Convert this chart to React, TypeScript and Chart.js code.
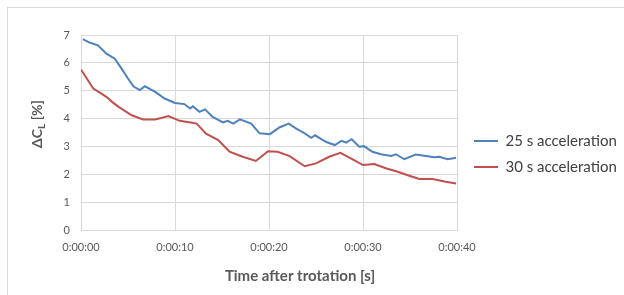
import React, { useEffect, useRef } from 'react';
import { Chart, registerables } from 'chart.js';

Chart.register(...registerables);

// ---- Data ----
const seriesLabels = ['25 s acceleration', '30 s acceleration'];

const blueTimes = [0.2, 0.9, 1.8, 2.7, 3.6, 4.3, 5.0, 5.6, 6.26, 6.8, 7.4, 7.9, 8.9, 10.0, 11.0, 11.6, 11.9, 12.6, 13.2, 14.0, 15.1, 15.6, 16.2, 16.9, 18.1, 19.0, 20.1, 21.1, 22.1, 22.9, 23.8, 24.5, 24.9, 25.6, 26.1, 27.0, 27.7, 28.2, 28.8, 29.6, 30.1, 31.0, 31.9, 33.0, 33.5, 34.4, 35.6, 36.7, 37.6, 38.1, 39.0, 39.9];
const blueValues = [6.85, 6.73, 6.63, 6.33, 6.15, 5.8, 5.44, 5.15, 5.02, 5.16, 5.05, 4.96, 4.72, 4.56, 4.52, 4.36, 4.44, 4.24, 4.33, 4.06, 3.86, 3.92, 3.82, 3.97, 3.82, 3.47, 3.44, 3.68, 3.82, 3.64, 3.47, 3.31, 3.4, 3.25, 3.16, 3.05, 3.2, 3.14, 3.26, 2.99, 3.01, 2.81, 2.72, 2.66, 2.72, 2.54, 2.71, 2.66, 2.61, 2.63, 2.54, 2.59];

const redTimes = [0, 0.6, 1.3, 2.0, 2.7, 3.3, 4.0, 5.4, 6.6, 7.9, 9.3, 10.5, 11.8, 12.3, 13.3, 14.6, 15.8, 17.2, 18.6, 19.9, 20.9, 22.2, 23.8, 25.0, 26.4, 27.6, 28.7, 30.0, 31.2, 32.5, 33.7, 35.0, 36.0, 37.4, 38.8, 39.9];
const redValues = [5.76, 5.45, 5.08, 4.93, 4.78, 4.6, 4.42, 4.12, 3.97, 3.97, 4.09, 3.92, 3.85, 3.82, 3.46, 3.23, 2.81, 2.63, 2.48, 2.83, 2.81, 2.65, 2.29, 2.39, 2.63, 2.77, 2.57, 2.33, 2.37, 2.21, 2.09, 1.94, 1.83, 1.83, 1.73, 1.67];

const xMin = 0;
const xMax = 40;
const xStep = 10;
const yMin = 0;
const yMax = 7;
const yStep = 1;

const xTitle = 'Time after trotation [s]';
const yTitleMain = 'ΔC';
const yTitleSub = 'L';
const yTitleTail = ' [%]';

const formatTime = (v: number) => {
  const s = Math.round(v);
  const mm = Math.floor(s / 60);
  const ss = s % 60;
  return `0:${String(mm).padStart(2, '0')}:${String(ss).padStart(2, '0')}`;
};

const FONT = 'Lato';
const TEXT_GREY = '#595959';
const GRID = '#d9d9d9';

const titlesPlugin = {
  id: 'customTitles',
  afterLayout(chart: any) {
    const lg = chart.legend;
    if (lg) {
      lg.left += 6;
      lg.right = chart.width;
      lg.width = lg.right - lg.left;
    }
  },
  afterDraw(chart: any) {
    const ctx = chart.ctx as CanvasRenderingContext2D;
    ctx.save();
    ctx.fillStyle = TEXT_GREY;
    ctx.font = `bold 15px ${FONT}`;
    ctx.textAlign = 'center';
    ctx.textBaseline = 'middle';
    ctx.fillText(xTitle, 300, 276);

    // rotated y title with subscript
    const big = `bold 14px ${FONT}`;
    const small = `bold 10px ${FONT}`;
    ctx.font = big;
    const w1 = ctx.measureText(yTitleMain).width;
    const w3 = ctx.measureText(yTitleTail).width;
    ctx.font = small;
    const w2 = ctx.measureText(yTitleSub).width;
    const total = w1 + w2 + w3;
    ctx.translate(37, 124);
    ctx.rotate(-Math.PI / 2);
    ctx.textAlign = 'left';
    ctx.textBaseline = 'alphabetic';
    let x = -total / 2;
    ctx.font = big;
    ctx.fillText(yTitleMain, x, 5);
    x += w1;
    ctx.font = small;
    ctx.fillText(yTitleSub, x, 8);
    x += w2;
    ctx.font = big;
    ctx.fillText(yTitleTail, x, 5);
    ctx.restore();
  },
};

export default function App() {
  const canvasRef = useRef<HTMLCanvasElement | null>(null);

  useEffect(() => {
    if (!canvasRef.current) return;
    const toPoints = (ts: number[], vs: number[]) => ts.map((t, i) => ({ x: t, y: vs[i] }));
    const chart = new Chart(canvasRef.current, {
      type: 'line',
      data: {
        datasets: [
          {
            label: seriesLabels[0],
            data: toPoints(blueTimes, blueValues),
            borderColor: '#4F81BD',
            backgroundColor: '#4F81BD',
            borderWidth: 2,
            pointRadius: 0,
            tension: 0,
          },
          {
            label: seriesLabels[1],
            data: toPoints(redTimes, redValues),
            borderColor: '#C0504D',
            backgroundColor: '#C0504D',
            borderWidth: 2,
            pointRadius: 0,
            tension: 0,
          },
        ],
      },
      options: {
        animation: false,
        responsive: false,
        devicePixelRatio: 1,
        layout: { padding: { left: 0, top: 35, right: 17, bottom: 22 } },
        plugins: {
          legend: {
            display: true,
            position: 'right',
            maxWidth: 150,
            labels: {
              usePointStyle: true,
              pointStyle: 'line',
              pointStyleWidth: 24,
              padding: 11,
              color: '#404040',
              font: { family: FONT, size: 15 },
            },
          },
          tooltip: { enabled: false },
        },
        scales: {
          x: {
            type: 'linear',
            min: xMin,
            max: xMax,
            afterFit: (s: any) => { s.height = 43; },
            grid: { color: GRID, drawTicks: false },
            border: { color: GRID },
            ticks: {
              stepSize: xStep,
              padding: 11,
              color: TEXT_GREY,
              font: { family: FONT, size: 11 },
              maxRotation: 0,
              callback: (v: any) => formatTime(Number(v)),
            },
          },
          y: {
            type: 'linear',
            min: yMin,
            max: yMax,
            afterFit: (s: any) => { s.width = 81; },
            grid: { color: GRID, drawTicks: false },
            border: { color: GRID },
            ticks: {
              stepSize: yStep,
              padding: 11,
              color: TEXT_GREY,
              font: { family: FONT, size: 11 },
            },
          },
        },
      },
      plugins: [titlesPlugin],
    });
    return () => chart.destroy();
  }, []);

  return (
    <div style={{ position: 'fixed', left: 0, top: 0, width: 624, height: 295, background: '#fff' }}>
      <div
        style={{
          position: 'absolute',
          left: 7,
          top: 7,
          right: 0,
          bottom: 0,
          borderTop: `1px solid ${GRID}`,
          borderLeft: `1px solid ${GRID}`,
        }}
      />
      <canvas ref={canvasRef} width={624} height={295} style={{ position: 'absolute', left: 0, top: 0 }} />
    </div>
  );
}
